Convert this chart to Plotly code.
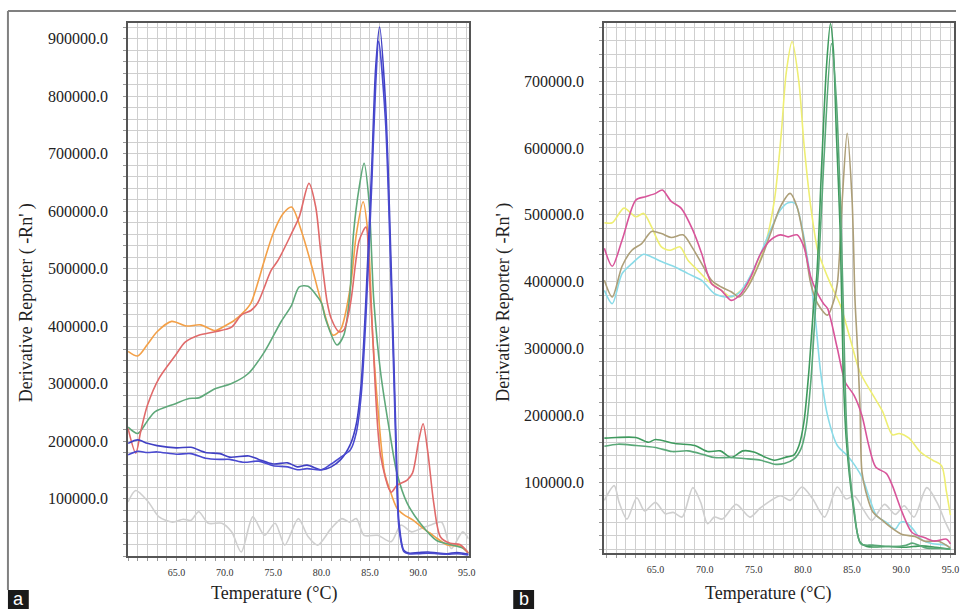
import plotly.graph_objects as go

# ---------------- Panel a data ----------------
a_orange_x = [60, 61, 62, 63, 64.5, 66, 67.5, 69, 70, 71, 72, 72.7, 73.5, 74, 75, 76, 76.9, 78, 79, 80, 81.2, 82, 83, 83.6, 84.3, 84.8, 85.3, 85.8, 86.5, 87, 87.8, 88.5, 89.5, 90.5, 91.2, 92, 93, 94.3, 95.2]
a_orange_y = [356000, 348000, 368000, 390000, 408000, 400000, 402000, 392000, 400000, 410000, 425000, 440000, 480000, 509000, 561000, 595000, 607000, 561000, 503000, 440000, 384000, 395000, 470000, 560000, 616000, 560000, 379000, 262000, 146000, 118000, 83000, 72000, 62000, 48000, 40000, 30000, 19000, 17000, 5000]

a_red_x = [60, 60.8, 61.3, 62, 63.2, 64.9, 65.9, 67.3, 69, 70.7, 71.7, 72.7, 73.4, 74.8, 75.5, 76.9, 77.7, 78.7, 79.4, 79.9, 80.6, 81, 81.8, 82.3, 83, 83.9, 84.6, 84.9, 85.3, 86.1, 87.2, 87.8, 88.85, 89.4, 90.05, 90.5, 91, 91.6, 92.3, 93.3, 94.3, 95.2]
a_red_y = [222000, 179000, 216000, 262000, 309000, 349000, 372000, 384000, 390000, 398000, 419000, 427000, 440000, 497000, 514000, 561000, 590000, 648000, 607000, 532000, 440000, 413000, 390000, 393000, 440000, 549000, 572000, 503000, 379000, 175000, 111000, 123000, 132000, 144000, 201000, 230000, 179000, 92000, 33000, 22000, 20000, 5000]

a_green_x = [60, 61, 62, 62.8, 64.9, 66.3, 67.3, 69, 70.7, 72.4, 74.1, 75.8, 76.9, 77.7, 78.6, 79.4, 80, 80.4, 81.6, 82.3, 82.9, 83.3, 83.9, 84.4, 84.9, 85.4, 86.1, 87.1, 87.8, 88.85, 90.2, 91.9, 93.3, 94.7, 95.2]
a_green_y = [224000, 213000, 235000, 251000, 265000, 274000, 275000, 291000, 300000, 317000, 355000, 407000, 436000, 468000, 469000, 455000, 440000, 413000, 367000, 384000, 450000, 560000, 642000, 683000, 619000, 445000, 320000, 210000, 144000, 92000, 57000, 27000, 20000, 13000, 5000]

a_blue1_x = [60, 61, 62, 63, 65, 66.5, 68, 69.5, 70.5, 72.5, 73.5, 75, 76.5, 77.5, 78.5, 80, 81, 82, 83, 83.6, 84.1, 84.6, 85.2, 85.6, 86.0, 86.6, 87.2, 87.7, 88.0, 88.5, 89, 90, 91, 92, 93, 94, 95.2]
a_blue1_y = [196000, 202000, 196000, 192000, 188000, 189000, 180000, 178000, 172000, 174000, 168000, 160000, 162000, 155000, 158000, 150000, 155000, 168000, 195000, 230000, 300000, 450000, 680000, 850000, 920000, 793000, 503000, 204000, 60000, 10000, 5000, 6000, 7000, 5000, 4000, 6000, 3000]

a_blue2_x = [60, 61, 62, 63, 65, 66.5, 68, 69.5, 70.5, 72, 73.5, 75, 76.5, 77.5, 78.5, 80, 81, 82, 83, 83.6, 84.1, 84.6, 85.2, 85.6, 85.9, 86.6, 87.2, 87.7, 88.0, 88.5, 89, 90, 91, 92, 93, 94, 95.2]
a_blue2_y = [176000, 182000, 180000, 181000, 177000, 178000, 170000, 168000, 168000, 163000, 165000, 157000, 155000, 150000, 152000, 150000, 160000, 172000, 185000, 215000, 280000, 420000, 650000, 820000, 895000, 760000, 470000, 180000, 50000, 8000, 4000, 4000, 5000, 4000, 3000, 4000, 2000]

a_gray_x = [60, 60.8, 62.1, 63.2, 64.6, 65.7, 66.5, 67.3, 68.3, 69.7, 70.7, 71.7, 72.9, 74.1, 75.2, 76.2, 77.6, 78.6, 79.6, 81, 82.1, 82.9, 83.6, 84.4, 85.8, 87.2, 88.2, 89.3, 90.3, 91.3, 92.4, 93.4, 94.6, 95.2]
a_gray_y = [94000, 114000, 94000, 68000, 59000, 64000, 62000, 77000, 57000, 57000, 42000, 7000, 68000, 36000, 57000, 19000, 65000, 34000, 19000, 48000, 65000, 59000, 65000, 36000, 36000, 25000, 54000, 42000, 48000, 54000, 59000, 13000, 42000, 30000]

# ---------------- Panel b data ----------------
b_yellow_x = [59.8, 60.6, 61.8, 63, 63.8, 64.6, 65.6, 66.5, 67.5, 68.3, 69.3, 70.3, 71.7, 72.7, 73.7, 74.7, 76.1, 77.1, 77.8, 78.3, 78.9, 79.6, 80.1, 80.8, 81.5, 82.1, 82.8, 83.8, 84.8, 85.8, 87.1, 88.1, 89.1, 89.8, 90.8, 91.9, 93.2, 94.1, 94.6, 95.0]
b_yellow_y = [488000, 488000, 510000, 497000, 502000, 482000, 452000, 447000, 452000, 432000, 417000, 402000, 387000, 377000, 387000, 402000, 452000, 522000, 622000, 712000, 759000, 697000, 607000, 512000, 447000, 422000, 397000, 365000, 315000, 265000, 231000, 206000, 171000, 173000, 166000, 146000, 133000, 125000, 86000, 51000]

b_magenta_x = [59.8, 60.6, 61.6, 63, 64, 65, 65.7, 66.6, 67.6, 68.8, 69.7, 70.7, 71.7, 72.7, 73.7, 74.7, 75.7, 76.7, 77.7, 78.5, 79.4, 80.1, 80.8, 81.5, 82.1, 82.5, 83.5, 84.3, 85.2, 86, 86.7, 87.4, 88.5, 89.1, 90.1, 91.1, 92.4, 93.4, 94.6, 95.0]
b_magenta_y = [450000, 423000, 462000, 522000, 527000, 532000, 537000, 520000, 510000, 477000, 442000, 397000, 387000, 372000, 382000, 407000, 442000, 462000, 470000, 467000, 470000, 452000, 407000, 382000, 367000, 360000, 300000, 250000, 230000, 200000, 155000, 123000, 113000, 95000, 55000, 25000, 17000, 12000, 15000, 8000]

b_tan_x = [59.8, 60.6, 61.6, 62.6, 63.6, 64.6, 65.6, 66.6, 67.8, 68.7, 69.7, 70.7, 71.7, 72.7, 73.5, 74.4, 75.7, 76.7, 77.7, 78.7, 79.4, 80.1, 80.8, 81.5, 82.5, 83.0, 83.5, 84.0, 84.5, 85.0, 85.3, 85.5, 85.8, 86.0, 86.4, 87.1, 88.1, 89.1, 90.1, 91.4, 92.4, 93.8, 95.0]
b_tan_y = [402000, 377000, 423000, 447000, 457000, 475000, 472000, 466000, 470000, 452000, 427000, 402000, 392000, 385000, 377000, 392000, 432000, 472000, 512000, 532000, 512000, 462000, 397000, 367000, 350000, 365000, 397000, 522000, 622000, 522000, 372000, 315000, 215000, 116000, 86000, 56000, 43000, 31000, 22000, 19000, 12000, 12000, 2000]

b_cyan_x = [59.8, 60.6, 61.6, 62.6, 63.8, 64.6, 65.6, 67, 68.3, 69.7, 71, 72.4, 73.4, 74.4, 75.7, 76.7, 77.7, 78.5, 79.2, 79.9, 80.6, 81.1, 81.3, 81.8, 82.5, 83.5, 84.5, 85.3, 86.1, 86.8, 87.5, 88.5, 89.4, 89.9, 90.5, 91.2, 92, 93.2, 94.6, 95.0]
b_cyan_y = [387000, 367000, 412000, 427000, 441000, 437000, 430000, 422000, 412000, 402000, 382000, 377000, 382000, 402000, 442000, 477000, 507000, 518000, 517000, 482000, 422000, 367000, 340000, 265000, 200000, 155000, 140000, 125000, 105000, 75000, 50000, 40000, 30000, 40000, 40000, 30000, 15000, 8000, 6000, 0]

b_green1_x = [59.8, 61, 63, 64.3, 65, 67, 69, 70.3, 71.6, 72.7, 73.9, 75.1, 76.1, 77.1, 78.4, 79.1, 79.6, 80.1, 80.6, 81.1, 81.4, 81.9, 82.4, 82.8, 83.1, 83.4, 83.8, 84.1, 84.4, 85.1, 85.8, 86.5, 88.8, 90.5, 92, 93.5, 95.0]
b_green1_y = [166000, 167000, 167000, 160000, 164000, 158000, 155000, 146000, 147000, 137000, 147000, 145000, 138000, 133000, 138000, 141000, 155000, 190000, 265000, 365000, 407000, 572000, 722000, 786000, 746000, 622000, 472000, 265000, 166000, 66000, 11000, 4000, 4000, 3000, 5000, 3000, 0]

b_green2_x = [59.8, 61.2, 63, 65, 66.7, 68.3, 70, 71, 72.7, 74.4, 75.7, 77.1, 78.1, 79.1, 79.8, 80.3, 80.8, 81.3, 81.6, 82.1, 82.9, 83.4, 83.8, 84.1, 84.5, 85.2, 85.9, 87.1, 89.1, 90.5, 91.1, 91.8, 92.5, 94, 95.0]
b_green2_y = [154000, 157000, 155000, 152000, 146000, 147000, 141000, 137000, 137000, 135000, 133000, 127000, 128000, 135000, 150000, 180000, 250000, 365000, 422000, 572000, 756000, 672000, 522000, 367000, 166000, 60000, 8000, 6000, 4000, 6000, 9000, 6000, 2000, 1000, 0]

b_gray_x = [59.8, 60.8, 61.3, 62.1, 63.1, 63.9, 65, 66, 66.8, 67.7, 68.8, 69.6, 70.3, 71, 71.8, 73.2, 74.6, 75.7, 77.7, 78.7, 79.9, 81, 82.2, 83.5, 84.4, 85.2, 86.2, 87, 88.3, 89.4, 90.3, 91.3, 92.6, 93.7, 94.5, 95.0]
b_gray_y = [73000, 95000, 70000, 45000, 77000, 57000, 70000, 53000, 55000, 48000, 92000, 70000, 38000, 48000, 45000, 67000, 48000, 62000, 80000, 73000, 93000, 75000, 48000, 93000, 75000, 80000, 58000, 43000, 67000, 52000, 65000, 48000, 92000, 68000, 40000, 25000]

x_tick_vals = [65, 70, 75, 80, 85, 90, 95]
x_tick_text = ["65.0", "70.0", "75.0", "80.0", "85.0", "90.0", "95.0"]
a_y_tick_vals = [100000, 200000, 300000, 400000, 500000, 600000, 700000, 800000, 900000]
b_y_tick_vals = [100000, 200000, 300000, 400000, 500000, 600000, 700000]

panel_a = [
    (a_gray_x, a_gray_y, "#cfcfcf"),
    (a_orange_x, a_orange_y, "#f3a048"),
    (a_green_x, a_green_y, "#5fa87a"),
    (a_red_x, a_red_y, "#e06a6a"),
    (a_blue1_x, a_blue1_y, "#4040c4"),
    (a_blue2_x, a_blue2_y, "#4a4ad0"),
]
panel_b = [
    (b_gray_x, b_gray_y, "#cfcfcf"),
    (b_yellow_x, b_yellow_y, "#eeee72"),
    (b_cyan_x, b_cyan_y, "#8adbe8"),
    (b_tan_x, b_tan_y, "#ad9f78"),
    (b_magenta_x, b_magenta_y, "#d8559a"),
    (b_green1_x, b_green1_y, "#3f9a5e"),
    (b_green2_x, b_green2_y, "#5aa878"),
]

fig = go.Figure()
for xs, ys, c in panel_a:
    fig.add_trace(go.Scatter(x=xs, y=ys, mode="lines", xaxis="x", yaxis="y",
                             line=dict(color=c, width=1.6, shape="spline", smoothing=0.8),
                             showlegend=False, hoverinfo="skip"))
for xs, ys, c in panel_b:
    fig.add_trace(go.Scatter(x=xs, y=ys, mode="lines", xaxis="x2", yaxis="y2",
                             line=dict(color=c, width=1.6, shape="spline", smoothing=0.8),
                             showlegend=False, hoverinfo="skip"))

W, H = 963, 609
serif = "Liberation Serif"
grid_c = "#cfcfcf"
frame_c = "#555555"

def xaxis(dom, rng, anchor):
    return dict(domain=dom, range=rng, anchor=anchor, tickvals=x_tick_vals, ticktext=x_tick_text,
                showgrid=True, gridcolor=grid_c, gridwidth=1.3,
                minor=dict(dtick=1, showgrid=True, gridcolor=grid_c, gridwidth=1.3,
                           ticks="outside", ticklen=3, tickcolor="#999999"),
                ticks="outside", ticklen=3, tickcolor="#999999",
                showline=True, linecolor=frame_c, linewidth=1.6, mirror=True,
                zeroline=False, tickfont=dict(family=serif, size=10, color="#333333"),
                ticklabelstandoff=3)

def yaxis(dom, rng, anchor, vals):
    return dict(domain=dom, range=rng, anchor=anchor, tickvals=vals,
                tickformat=".1f", showgrid=True, gridcolor=grid_c, gridwidth=1.3,
                minor=dict(dtick=20000, tick0=0, showgrid=True, gridcolor=grid_c, gridwidth=1.3,
                           ticks="outside", ticklen=3, tickcolor="#999999"),
                ticks="outside", ticklen=3, tickcolor="#999999",
                showline=True, linecolor=frame_c, linewidth=1.6, mirror=True,
                zeroline=False, tickfont=dict(family=serif, size=16, color="#222222"),
                ticklabelstandoff=12)

fig.update_layout(
    width=W, height=H, margin=dict(l=0, r=0, t=0, b=0),
    paper_bgcolor="white", plot_bgcolor="white",
    xaxis=xaxis([129 / W, 472 / W], [60, 95.2], "y"),
    yaxis=yaxis([1 - 556 / H, 1 - 23 / H], [0, 927000], "x", a_y_tick_vals),
    xaxis2=xaxis([608.3 / W, 960.7 / W], [59.75, 95.34], "y2"),
    yaxis2=yaxis([1 - 553.3 / H, 1 - 22.7 / H], [-6150, 787200], "x2", b_y_tick_vals),
)

# outer frame lines
fig.add_shape(type="line", xref="paper", yref="paper", x0=8 / W, x1=1, y0=1 - 11 / H, y1=1 - 11 / H,
              line=dict(color="#808080", width=2))
fig.add_shape(type="line", xref="paper", yref="paper", x0=8 / W, x1=8 / W, y0=1 - 11 / H, y1=19 / H,
              line=dict(color="#808080", width=2))

# panel letter boxes
for x0, x1, letter in [(8, 29, "a"), (517, 538, "b")]:
    fig.add_shape(type="rect", xref="paper", yref="paper", x0=x0 / W, x1=x1 / W, y0=0, y1=19 / H,
                  fillcolor="#1a1a1a", line=dict(width=0))
    fig.add_annotation(xref="paper", yref="paper", x=(x0 + x1) / 2 / W, y=10 / H, text=letter,
                       showarrow=False, xanchor="center", yanchor="middle", borderpad=0,
                       font=dict(family="Liberation Sans", size=18, color="white"))

# axis titles
for cx in [275.7, 773.7]:
    fig.add_annotation(xref="paper", yref="paper", x=cx / W, y=1 - 593 / H, text="Temperature (°C)",
                       showarrow=False, xanchor="center", yanchor="middle",
                       font=dict(family=serif, size=18, color="#222222"))
for cx in [27, 507]:
    fig.add_annotation(xref="paper", yref="paper", x=cx / W, y=1 - 302.5 / H,
                       text="Derivative Reporter ( -Rn' )", textangle=-90,
                       showarrow=False, xanchor="center", yanchor="middle",
                       font=dict(family=serif, size=18, color="#222222"))

fig.write_html("out.html", config={"displayModeBar": False},
               post_script="document.body.style.margin='0px';document.body.style.overflow='hidden';")
